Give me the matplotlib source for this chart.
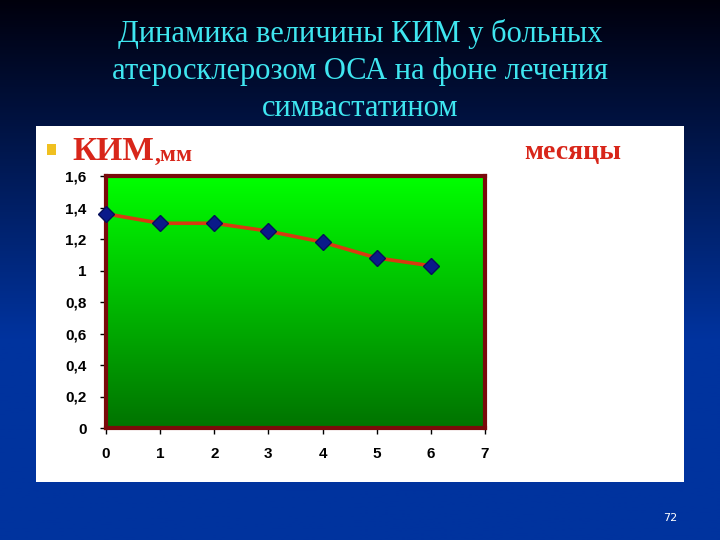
import matplotlib
matplotlib.use("Agg")
import matplotlib.pyplot as plt
import numpy as np
from matplotlib.patches import Rectangle

months = [0, 1, 2, 3, 4, 5, 6]
kim_mm = [1.36, 1.30, 1.30, 1.25, 1.18, 1.08, 1.03]
y_ticks = [0, 0.2, 0.4, 0.6, 0.8, 1, 1.2, 1.4, 1.6]
y_labels = ["0", "0,2", "0,4", "0,6", "0,8", "1", "1,2", "1,4", "1,6"]
x_ticks = [0, 1, 2, 3, 4, 5, 6, 7]

title_lines = ["Динамика величины КИМ у больных",
               "атеросклерозом ОСА на фоне лечения",
               "симвастатином"]

fig = plt.figure(figsize=(7.2, 5.4), dpi=100)

# slide background: black at top to blue at bottom
bg = fig.add_axes([0, 0, 1, 1])
grad = np.linspace(0, 1, 256).reshape(-1, 1)
top = np.array([0.0, 0.0, 0.05])
bottom = np.array([0.0, 0.2, 0.62])
img = top + (bottom - top) * np.clip(grad * 1.6, 0, 1)[:, :, None]
bg.imshow(img, aspect="auto", extent=[0, 1, 1, 0])
bg.set_xlim(0, 1)
bg.set_ylim(1, 0)
bg.axis("off")

# white panel
bg.add_patch(Rectangle((36 / 720, 126 / 540), 648 / 720, 356 / 540,
                       facecolor="white", edgecolor="none"))

for i, line in enumerate(title_lines):
    fig.text(0.5, 1 - (34 + i * 37) / 540, line, ha="center", va="center",
             fontsize=22, color="#3fe6f0", family="Liberation Serif")

# bullet and labels
bg.add_patch(Rectangle((47 / 720, 144 / 540), 9 / 720, 11 / 540,
                       facecolor="#f0c020", edgecolor="none"))
kim = fig.text(72 / 720, 1 - 152 / 540, "КИМ", fontsize=24, fontweight="bold",
               color="#d8261a", family="Liberation Serif", va="center")
fig.canvas.draw()
bb = kim.get_window_extent(renderer=fig.canvas.get_renderer())
fig.text(bb.x1 / 720 + 1 / 720, 1 - 155 / 540, ",мм", fontsize=17, fontweight="bold",
         color="#d8261a", family="Liberation Serif", va="center")
fig.text(573 / 720, 1 - 152 / 540, "месяцы", fontsize=20, fontweight="bold",
         color="#d8261a", family="Liberation Serif", va="center", ha="center")

fig.text(670 / 720, 1 - 518 / 540, "72", fontsize=8, color="white",
         ha="center", va="center")

ax = fig.add_axes([106 / 720, 112 / 540, 379 / 720, 252 / 540])
g = np.linspace(0, 1, 256).reshape(-1, 1)
c_top = np.array([0.0, 1.0, 0.0])
c_bot = np.array([0.0, 0.45, 0.0])
gimg = c_top + (c_bot - c_top) * g[:, :, None]
ax.imshow(gimg, aspect="auto", extent=[0, 7, 0, 1.6], zorder=0)

ax.plot(months, kim_mm, color="#d83a10", lw=2.6, marker="D", markersize=8,
        markerfacecolor="#0a1a8a", markeredgecolor="#06105a", zorder=3,
        clip_on=False)

ax.set_xlim(0, 7)
ax.set_ylim(0, 1.6)
ax.set_xticks(x_ticks)
ax.set_yticks(y_ticks)
ax.set_yticklabels(y_labels)
for lab in ax.get_xticklabels() + ax.get_yticklabels():
    lab.set_fontweight("bold")
    lab.set_family("Liberation Sans")
    lab.set_fontsize(11)
ax.tick_params(direction="out", length=4, width=1, color="black", pad=10)
for s in ax.spines.values():
    s.set_color("#7a0a0a")
    s.set_linewidth(3)

fig.savefig("out.png", dpi=100)
